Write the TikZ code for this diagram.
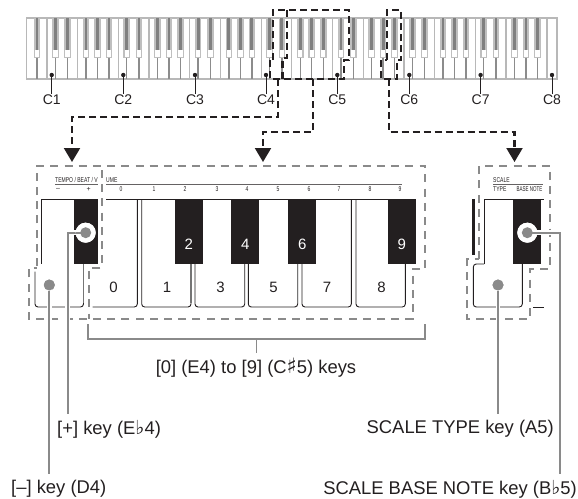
\documentclass[tikz,border=0pt]{standalone}
\usepackage{fontspec}
\setmainfont{Liberation Sans}
\newfontfamily\sym{DejaVu Sans}
\usetikzlibrary{arrows.meta}
\definecolor{leadgray}{HTML}{8A8A8A}
\definecolor{keyblack}{HTML}{231F20}
\newcommand{\flatsign}{{\sym\scalebox{1.05}{♭}}}
\newcommand{\sharpsign}{{\sym\scalebox{1.15}{♯}}}
\tikzset{
  lab/.style={inner sep=0pt,font=\fontsize{14}{15}\selectfont,text=keyblack},
  biglab/.style={inner sep=0pt,font=\fontsize{18.4}{20}\selectfont,text=keyblack},
  digit/.style={inner sep=0pt,font=\fontsize{15}{16}\selectfont,text=keyblack},
  wdigit/.style={inner sep=0pt,font=\fontsize{15}{16}\selectfont,text=white},
  small/.style={inner sep=0pt,font=\fontsize{7}{8}\selectfont,text=keyblack},
  bdash/.style={draw=keyblack,line width=2.1pt,dash pattern=on 7pt off 4pt},
  gdash/.style={draw=leadgray,line width=2pt,dash pattern=on 8pt off 6.2pt},
  leader/.style={draw=leadgray,line width=1.9pt},
  casing/.style={draw=white,line width=4.6pt},
  keyline/.style={draw=keyblack,line width=.9pt},
  graypart/.style={draw=leadgray!85!black,line width=1.3pt},
  blk/.style={fill=keyblack,draw=none},
  tick/.style={draw=keyblack,line width=.9pt},
  dot/.style={circle,fill=keyblack,inner sep=0pt,minimum size=4.4pt},
  gdot/.style={circle,fill=leadgray,inner sep=0pt,minimum size=11pt},
  ring/.style={circle,fill=white,inner sep=0pt,minimum size=20pt},
  arr/.style={-{Triangle[width=16pt,length=14pt]}}
}
\newcommand{\nar}[1]{\scalebox{.72}[1]{#1}}
\begin{document}
\begin{tikzpicture}[x=1pt,y=-1pt]
\useasboundingbox (0,0) rectangle (578,498);
% ---------- keyboard ----------
\fill[white] (26.7,18) rectangle (557,79);
\draw[draw=black!28,line width=1.1pt] (26.7,18) rectangle (557,79);
\foreach \k in {0,...,6}{
  \pgfmathsetmacro\b{47+71.4*\k}
  \draw[draw=black!28,line width=1.1pt] (\b,18) -- (\b,79);
  \draw[draw=black!28,line width=1.1pt] (\b+30.6,18) -- (\b+30.6,79);
}
\draw[draw=black!28,line width=1.1pt] (547,18) -- (547,79);
\foreach \bx in {37,55.3,67.6,86,97.5,109,126.7,139,157.4,168.9,180.4,198.1,210.4,228.8,240.3,251.8,269.5,281.8,300.2,311.7,323.2,340.9,353.2,371.6,383.1,394.6,412.3,424.6,443,454.5,466,483.7,496,514.4,525.9,537.4}{
  \draw[draw=black!45,line width=1.4pt] (\bx,58) -- (\bx,79);
  \fill[black!25] (\bx-3.3,18) rectangle (\bx+3.3,58);
  \fill[white] (\bx-2.2,50) rectangle (\bx+2.2,57);
  \fill[black!50] (\bx-1.4,18) rectangle (\bx+1.4,50);
}
% key markers
\foreach \n/\x in {C1/51.7,C2/123.3,C3/195,C4/266,C5/337.3,C6/409.3,C7/480.6,C8/552}{
  \node[dot] (m\n) at (\x,75) {};
  \node[lab] (l\n) at (\x,99.5) {\n};
  \draw[tick] (m\n) -- (l\n.north);
}
% ---------- enlarged keys ----------
\fill[blk] (74,199) rectangle (97.7,264);
\fill[blk] (174.7,199) rectangle (203,264);
\fill[blk] (231,199) rectangle (259.3,264);
\fill[blk] (288,199) rectangle (316.3,264);
\fill[blk] (387.7,199) rectangle (416,264);
\draw[keyline] (74,199.5) -- (41.7,199.5) -- (41.7,264);
\draw[keyline] (106,199.5) -- (416,199.5);
\draw[keyline,rounded corners=3pt] (35,271.5) -- (35,307) -- (83.5,307) -- (83.5,264);
\draw[keyline,rounded corners=3pt] (92.7,307) -- (137.3,307) -- (137.3,199.5);
\draw[keyline,rounded corners=3pt] (141.7,199.5) -- (141.7,307) -- (191,307) -- (191,264);
\draw[keyline,rounded corners=3pt] (195,264) -- (195,307) -- (244.7,307) -- (244.7,264);
\draw[keyline,rounded corners=3pt] (248.3,264) -- (248.3,307) -- (297.7,307) -- (297.7,264);
\draw[keyline,rounded corners=3pt] (302,264) -- (302,307) -- (351.3,307) -- (351.3,199.5);
\draw[keyline,rounded corners=3pt] (356,199.5) -- (356,307) -- (405.3,307) -- (405.3,264);
\draw[graypart] (83.5,264) -- (83.5,303);
\draw[graypart] (191,264) -- (191,303);
\draw[graypart] (297.7,264) -- (297.7,303);
% right section
\fill[blk] (471.7,199) rectangle (475,255);
\fill[blk] (513,199) rectangle (541,264);
\draw[keyline] (484,264) -- (484,199.5) -- (544,199.5);
\draw[keyline,rounded corners=3pt] (484,264) -- (473.3,264) -- (473.3,307) -- (522.3,307) -- (522.3,264);
\draw[keyline] (533,307) -- (544,307);
% digits
\foreach \n/\x in {0/113.5,1/167,3/220.5,5/273.5,7/327,8/381.5}{
  \node[digit] (d\n) at (\x,287.5) {\n};
}
\foreach \n/\x in {2/188.7,4/245.2,6/302.2,9/401.8}{
  \node[wdigit] (d\n) at (\x,244.5) {\n};
}
% header
\node[small,anchor=west] (hTempo) at (55,180) {\nar{TEMPO / BEAT / V}};
\node[small,anchor=west] (hUme) at (106,180) {\nar{UME}};
\draw[draw=keyblack!70,line width=.7pt] (55,184.3) -- (98,184.3);
\draw[draw=keyblack!70,line width=.7pt] (106,184.3) -- (402,184.3);
\node[small] (hMinus) at (58,189.5) {–};
\node[small] (hPlus) at (88.7,189.5) {+};
\foreach \n/\x in {0/121,1/154,2/185,3/217,4/247,5/278,6/309,7/339,8/370,9/400}{
  \node[small] (h\n) at (\x,189.5) {\nar{\n}};
}
\node[small,anchor=west] (hScale) at (493,180) {\nar{SCALE}};
\draw[draw=keyblack!70,line width=.7pt] (493,184.3) -- (543,184.3);
\node[small,anchor=west] (hType) at (493,189.5) {\nar{TYPE}};
\node[small,anchor=east] (hBase) at (542.5,189.5) {\scalebox{.64}[1]{BASE NOTE}};
% ---------- gray dashed regions ----------
\draw[gdash] (37,266) -- (37,165.7) -- (425,165.7) -- (425,269) -- (412.7,269) -- (412.7,319) -- (29,319) -- (29,268) -- (37,268);
\draw[gdash] (101.7,170) -- (101.7,268) -- (89,268) -- (89,319);
\draw[gdash] (479.3,259.3) -- (479.3,165.7) -- (550,165.7) -- (550,269) -- (530,269) -- (530,319) -- (466.7,319) -- (466.7,259.3) -- (479.3,259.3);
% ---------- leaders ----------
\node[gdot] (dotD) at (49.3,285) {};
\node[gdot] (dotA) at (498,285) {};
\node[ring] (ringP) at (85.7,232.7) {};
\node[ring] (ringB) at (527.3,232.7) {};
\coordinate (endD) at (49.3,474);
\coordinate (endP) at (67.7,414);
\coordinate (endA) at (498,414);
\coordinate (endB) at (560,474);
\draw[casing] (dotD.center) -- (49.3,345);
\draw[casing] (dotA.center) -- (498,345);
\draw[casing] (ringP.center) -| (67.7,345);
\draw[casing] (ringB.center) -| (560,345);
\draw[leader] (dotD) -- (endD);
\draw[leader] (dotA) -- (endA);
\draw[leader] (ringP.center) -| (endP);
\draw[leader] (ringB.center) -| (endB);
\node[ring] at (ringP) {};
\node[ring] at (ringB) {};
\draw[leader] (ringP.center) -- (ringP.west);
\draw[leader] (ringB.center) -- (ringB.east);
\node[gdot] (dotP) at (ringP) {};
\node[gdot] (dotB) at (ringB) {};
\node[gdot] at (dotD) {};
\node[gdot] at (dotA) {};
% bracket
\coordinate (brL) at (88.3,324);
\coordinate (brR) at (425,324);
\coordinate (brM) at (256.5,339);
\node[biglab] (tKeys) at (256,368) {[0] (E4) to [9] (C\sharpsign5) keys};
\draw[leader] (brL) |- (brM) -| (brR);
\draw[leader] (brM) -- (256.5,353);
% labels
\node[biglab,anchor=west] (tPlus) at (57,429) {[+] key (E\flatsign4)};
\node[biglab,anchor=east] (tType) at (554,429) {SCALE TYPE key (A5)};
\node[biglab,anchor=west] (tMinus) at (11,489) {[–] key (D4)};
\node[biglab,anchor=east] (tBase) at (577,489) {SCALE BASE NOTE key (B\flatsign5)};
% ---------- black dashed selection ----------
\draw[bdash] (273,60) -- (273,10) -- (349,10) -- (349,60) -- (344,60) -- (344,79) -- (270,79) -- (270,60) -- cycle;
\draw[bdash] (287,10) -- (287,58) -- (282.5,58) -- (282.5,79);
\draw[bdash] (387,60) -- (387,10) -- (401,10) -- (401,60) -- (397,60) -- (397,79) -- (381,79) -- (381,60) -- cycle;
\coordinate (s1) at (278,79);
\coordinate (s2) at (312.7,79);
\coordinate (s3) at (388.6,79);
\coordinate (a1) at (72,162);
\coordinate (a2) at (263,162);
\coordinate (a3) at (514.5,162);
\draw[bdash,arr] (s1) -- (278,117) -- (72,117) -- (a1);
\draw[bdash,arr] (s2) -- (312.7,132) -- (263,132) -- (a2);
\draw[bdash,arr] (s3) -- (388.6,132) -- (514.5,132) -- (a3);
\end{tikzpicture}
\end{document}
